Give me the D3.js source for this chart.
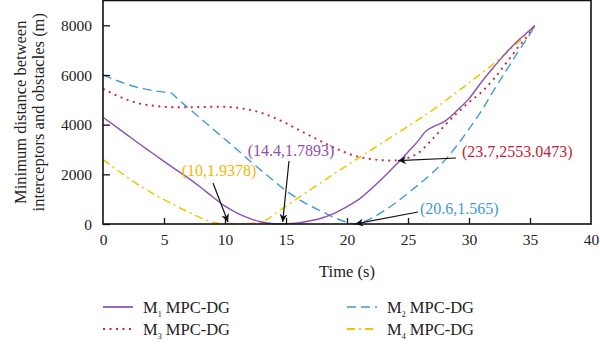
<!DOCTYPE html>
<html>
<head>
<meta charset="utf-8">
<script src="https://cdn.jsdelivr.net/npm/d3@7"></script>
<style>
  html, body { margin: 0; padding: 0; background: #fff; }
  svg { display: block; }
  svg text { font-family: "Liberation Serif", "DejaVu Serif", serif; }
</style>
</head>
<body>
<svg id="chart" width="600" height="347"></svg>
<script>
// Minimum interceptor–obstacle distance over time for four MPC-DG interceptors
const xTicks = [0, 5, 10, 15, 20, 25, 30, 35, 40];
const yTicks = [0, 2000, 4000, 6000, 8000];

const m1Time = [0, 1, 2, 3, 4, 5, 6, 7, 8, 9, 10, 11, 12, 13, 14, 14.4, 15, 16, 17, 18, 19, 20, 21, 22, 23, 24, 25, 26, 26.4, 27, 28, 29, 30, 31, 32, 33, 34, 35, 35.4];
const m1Dist = [4300, 3940, 3580, 3220, 2870, 2520, 2180, 1850, 1480, 1090, 720, 440, 230, 80, 12, 1.7893, 8, 45, 130, 250, 440, 700, 1000, 1420, 1880, 2380, 2900, 3450, 3710, 3900, 4130, 4560, 5050, 5700, 6300, 6870, 7380, 7810, 8000];

const m2Time = [0, 1, 2, 3, 4, 5, 5.6, 6, 7, 8, 9, 10, 11, 12, 13, 14, 15, 16, 17, 18, 19, 20, 20.6, 21, 22, 23, 24, 25, 26, 27, 28, 29, 30, 31, 32, 33, 34, 35, 35.4];
const m2Dist = [6000, 5800, 5620, 5480, 5380, 5310, 5270, 5090, 4670, 4250, 3830, 3410, 2990, 2560, 2140, 1740, 1340, 1010, 730, 490, 250, 70, 1.565, 40, 230, 520, 860, 1240, 1640, 2060, 2560, 3150, 3830, 4540, 5360, 6140, 6920, 7650, 8000];

const m3Time = [0, 1, 2, 3, 4, 5, 6, 7, 8, 9, 10, 11, 12, 13, 14, 15, 16, 17, 18, 19, 20, 21, 22, 23, 23.7, 24, 25, 26, 27, 28, 29, 30, 31, 32, 33, 34, 35, 35.4];
const m3Dist = [5450, 5200, 5000, 4850, 4770, 4720, 4700, 4700, 4710, 4720, 4720, 4680, 4600, 4470, 4280, 4060, 3800, 3550, 3300, 3060, 2850, 2700, 2610, 2565, 2553.0473, 2560, 2660, 2920, 3420, 3960, 4460, 4900, 5300, 5820, 6450, 7100, 7700, 8000];

const m4Time = [0, 1, 2, 3, 4, 5, 6, 7, 8, 9, 10, 11, 12, 12.9, 13.5, 14, 15, 16, 17, 18, 19, 20, 21, 22, 23, 24, 25, 26, 27, 28, 29, 30, 31, 32, 33, 34, 35, 35.4];
const m4Dist = [2600, 2230, 1880, 1550, 1250, 980, 720, 480, 250, 70, 1.9378, 5, 20, 60, 200, 380, 720, 1050, 1380, 1710, 2040, 2360, 2680, 2990, 3300, 3620, 3930, 4250, 4580, 4940, 5310, 5680, 6060, 6450, 6870, 7300, 7780, 8000];

const seriesNames = ["M1", "M2", "M3", "M4"];
const seriesSub = ["1", "2", "3", "4"];

// Annotated minima: [time, distance, label]
const minima = [
  [10, 1.9378, "(10,1.9378)"],
  [14.4, 1.7893, "(14.4,1.7893)"],
  [23.7, 2553.0473, "(23.7,2553.0473)"],
  [20.6, 1.565, "(20.6,1.565)"]
];

const FONT = "'Liberation Serif', 'DejaVu Serif', serif";
const svg = d3.select("#chart");
const margin = { left: 103, right: 9, top: 0.5, bottom: 123 };
const W = 600, H = 347;

const x = d3.scaleLinear().domain([0, 40]).range([margin.left, W - margin.right]);
const y = d3.scaleLinear().domain([0, 9000]).range([H - margin.bottom, margin.top]);

const styles = [
  { color: "#8d4fb3", dash: null, width: 1.4 },
  { color: "#3e9bd9", dash: "9,5", width: 1.4 },
  { color: "#c8283f", dash: "2,4.5", width: 1.9 },
  { color: "#f7c300", dash: "8,4,2,4", width: 1.5 }
];
const textColors = ["#f2b705", "#8d4fb3", "#c01f38", "#3e9bd9"];

const data = [
  m1Time.map((t, i) => [t, m1Dist[i]]),
  m2Time.map((t, i) => [t, m2Dist[i]]),
  m3Time.map((t, i) => [t, m3Dist[i]]),
  m4Time.map((t, i) => [t, m4Dist[i]])
];

const line = d3.line()
  .x(d => x(d[0]))
  .y(d => y(d[1]))
  .curve(d3.curveMonotoneX);

const plot = svg.append("g");
plot.append("defs").append("clipPath").attr("id", "clip")
  .append("rect")
  .attr("x", x(0)).attr("y", y(9000))
  .attr("width", x(40) - x(0)).attr("height", y(0) - y(9000) + 1);

// draw order: M4, M3, M2, M1 so the solid line sits on top
const order = [3, 2, 1, 0];
plot.append("g").attr("clip-path", "url(#clip)")
  .selectAll("path")
  .data(order)
  .join("path")
  .attr("d", i => line(data[i]))
  .attr("fill", "none")
  .attr("stroke", i => styles[i].color)
  .attr("stroke-width", i => styles[i].width)
  .attr("stroke-dasharray", i => styles[i].dash);

// Axes with inward ticks
const xAxis = d3.axisBottom(x).tickValues(xTicks).tickFormat(d3.format("d"))
  .tickSizeInner(-6).tickSizeOuter(0).tickPadding(10);
const yAxis = d3.axisLeft(y).tickValues(yTicks).tickFormat(d3.format("d"))
  .tickSizeInner(-7).tickSizeOuter(0).tickPadding(11);

const gx = svg.append("g").attr("transform", `translate(0,${y(0)})`).call(xAxis);
const gy = svg.append("g").attr("transform", `translate(${x(0)},0)`).call(yAxis);
[gx, gy].forEach(g => {
  g.attr("font-family", FONT).attr("font-size", 15.5);
  g.select(".domain").remove();
  g.selectAll(".tick line").attr("stroke", "#111").attr("stroke-width", 1.3);
  g.selectAll(".tick text").attr("fill", "#222");
});
gx.selectAll(".tick line").filter(d => d === 0 || d === 40).remove();
gy.selectAll(".tick text").attr("dy", "0.34em");

// Frame
svg.append("rect")
  .attr("x", x(0)).attr("y", y(9000))
  .attr("width", x(40) - x(0)).attr("height", y(0) - y(9000))
  .attr("fill", "none").attr("stroke", "#111").attr("stroke-width", 1.6);

// Axis titles
svg.append("text")
  .attr("x", x(20)).attr("y", 277)
  .attr("text-anchor", "middle")
  .attr("fill", "#222")
  .attr("font-family", FONT).attr("font-size", 16.5)
  .text("Time (s)");

const yTitle = svg.append("text")
  .attr("transform", `translate(0,${(y(0) + y(9000)) / 2}) rotate(-90)`)
  .attr("text-anchor", "middle")
  .attr("fill", "#222")
  .attr("font-family", FONT).attr("font-size", 16.5);
yTitle.append("tspan").attr("x", 0).attr("y", 26).text("Minimum distance between");
yTitle.append("tspan").attr("x", 0).attr("y", 44).text("interceptors and obstacles (m)");

// Arrow marker
svg.append("defs").append("marker")
  .attr("id", "arrowhead")
  .attr("viewBox", "0 0 10 10")
  .attr("refX", 10).attr("refY", 5)
  .attr("markerWidth", 9).attr("markerHeight", 8)
  .attr("markerUnits", "userSpaceOnUse")
  .attr("orient", "auto")
  .append("path")
  .attr("d", "M0,0 L10,5 L0,10 L3,5 Z")
  .attr("fill", "#111");

// Annotation layout: text anchor point, tail of arrow, tip offset from the data point
const annLayout = [
  { tx: 219, ty: 176, anchor: "middle", tail: [213, 183], tipDx: 3, tipDy: -2 },
  { tx: 291, ty: 156, anchor: "middle", tail: [289, 161], tipDx: 4, tipDy: -2 },
  { tx: 462, ty: 157, anchor: "start", tail: [456, 158], tipDx: 6, tipDy: 0 },
  { tx: 420, ty: 214, anchor: "start", tail: [418, 212], tipDx: 1, tipDy: 0 }
];

const ann = svg.append("g");
minima.forEach((m, i) => {
  const L = annLayout[i];
  const tipX = x(m[0]) + L.tipDx;
  const tipY = y(m[1]) + L.tipDy;
  ann.append("line")
    .attr("x1", L.tail[0]).attr("y1", L.tail[1])
    .attr("x2", tipX).attr("y2", tipY)
    .attr("stroke", "#111").attr("stroke-width", 1.2)
    .attr("marker-end", "url(#arrowhead)");
  ann.append("text")
    .attr("x", L.tx).attr("y", L.ty)
    .attr("text-anchor", L.anchor)
    .attr("fill", textColors[i])
    .attr("font-family", FONT).attr("font-size", 16)
    .text(m[2]);
});

// Legend
const legendPos = [
  { lx: 103, ly: 307 },
  { lx: 347, ly: 307 },
  { lx: 103, ly: 329 },
  { lx: 347, ly: 329 }
];
const leg = svg.append("g");
seriesNames.forEach((name, i) => {
  const p = legendPos[i];
  leg.append("line")
    .attr("x1", p.lx).attr("x2", p.lx + 30)
    .attr("y1", p.ly).attr("y2", p.ly)
    .attr("stroke", styles[i].color)
    .attr("stroke-width", styles[i].width + 0.3)
    .attr("stroke-dasharray", styles[i].dash);
  const t = leg.append("text")
    .attr("x", p.lx + 40).attr("y", p.ly + 6)
    .attr("fill", "#222")
    .attr("font-family", FONT).attr("font-size", 16.5);
  t.append("tspan").text("M");
  t.append("tspan").attr("dy", 4).attr("font-size", 8).text(seriesSub[i]);
  t.append("tspan").attr("dy", -4).text(" MPC-DG");
});
</script>
</body>
</html>
